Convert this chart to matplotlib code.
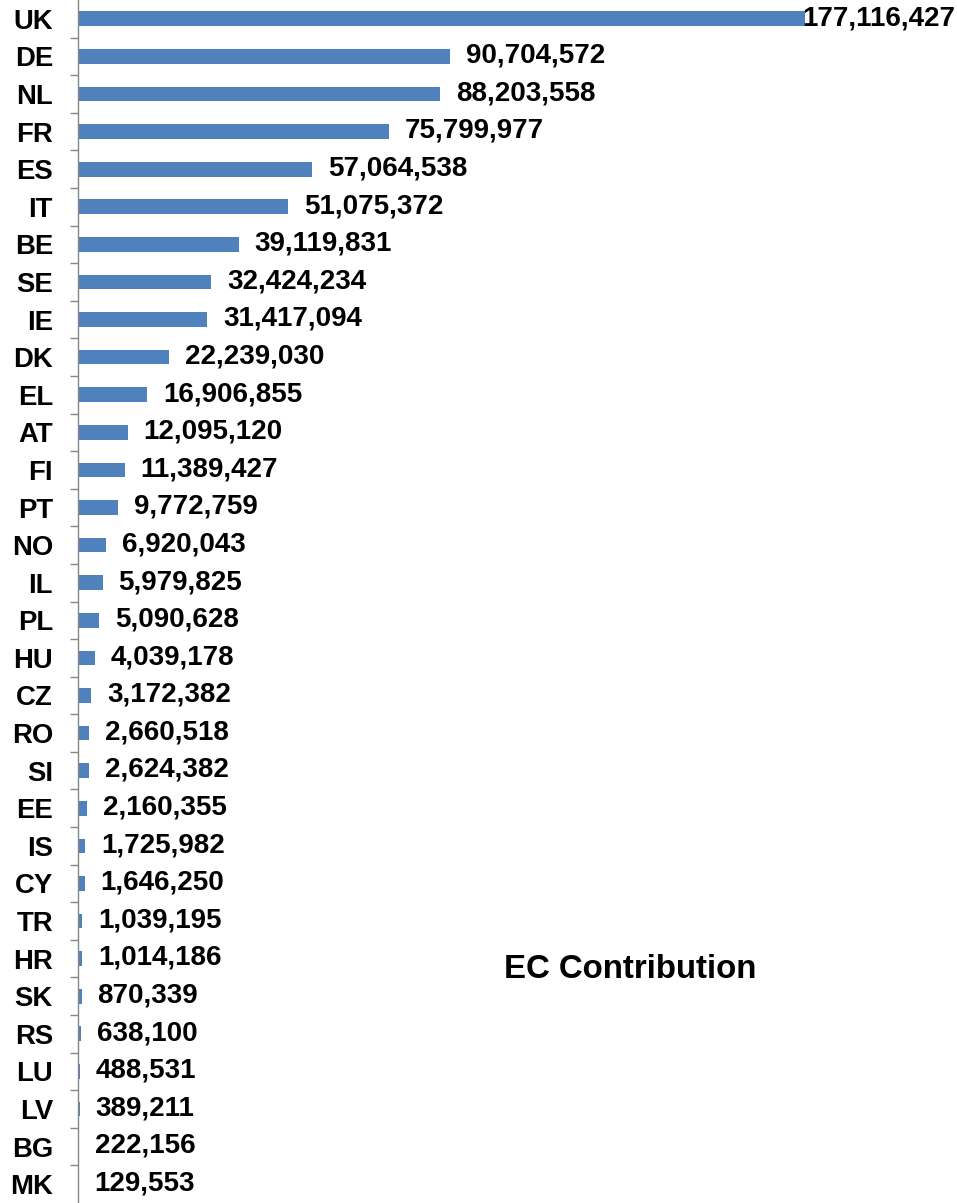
import matplotlib
matplotlib.use("Agg")
import matplotlib.pyplot as plt
import numpy as np

countries = ["UK", "DE", "NL", "FR", "ES", "IT", "BE", "SE", "IE", "DK", "EL", "AT",
             "FI", "PT", "NO", "IL", "PL", "HU", "CZ", "RO", "SI", "EE", "IS", "CY",
             "TR", "HR", "SK", "RS", "LU", "LV", "BG", "MK"]
values = [177116427, 90704572, 88203558, 75799977, 57064538, 51075372, 39119831,
          32424234, 31417094, 22239030, 16906855, 12095120, 11389427, 9772759,
          6920043, 5979825, 5090628, 4039178, 3172382, 2660518, 2624382, 2160355,
          1725982, 1646250, 1039195, 1014186, 870339, 638100, 488531, 389211,
          222156, 129553]
title = "EC Contribution"

plt.rcParams['font.family'] = ['Liberation Sans', 'DejaVu Sans']

W, H = 957, 1203
fig = plt.figure(figsize=(W / 100, H / 100), dpi=100)
left = 78 / W
ax = fig.add_axes([left, 0.0, 1 - left, 1.0])

y = np.arange(len(countries))
ax.barh(y, values, height=0.39, color="#4F81BD")
ax.set_ylim(len(countries) - 0.5, -0.5)
ax.set_xlim(0, 214.1e6)

ax.set_yticks(y)
ax.set_yticklabels(countries, fontsize=19.8, fontweight='bold')
ax.tick_params(axis='y', which='major', length=0, pad=18)
ax.set_yticks(np.arange(len(countries) - 1) + 0.5, minor=True)
ax.tick_params(axis='y', which='minor', length=6, width=1, color='#868686', direction='out')
ax.set_xticks([])

for s in ['top', 'right', 'bottom']:
    ax.spines[s].set_visible(False)
ax.spines['left'].set_color('#868686')
ax.spines['left'].set_linewidth(1)

xmax = ax.get_xlim()[1]
for yi, v in zip(y, values):
    lab = f"{v:,}"
    if v > 0.8 * xmax:
        ax.annotate(lab, xy=(1.0, yi), xycoords=('axes fraction', 'data'),
                    xytext=(-1, 0.5), textcoords='offset points',
                    ha='right', va='center', fontsize=20, fontweight='bold')
    else:
        ax.annotate(lab, xy=(v, yi), xytext=(11.5, 0.5), textcoords='offset points',
                    ha='left', va='center', fontsize=20, fontweight='bold')

fig.text(630 / W, 1 - 970 / H, title, ha='center', va='center',
         fontsize=23.8, fontweight='bold')

fig.savefig("out.png", dpi=100)
